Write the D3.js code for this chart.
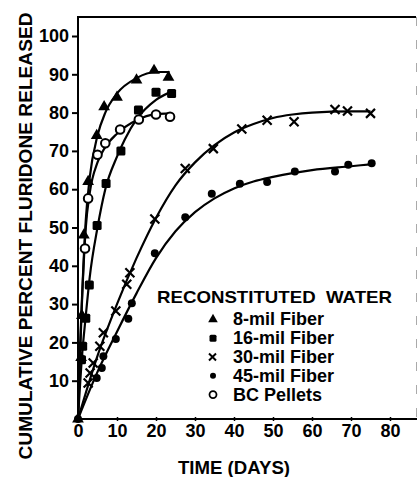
<!DOCTYPE html>
<html><head><meta charset="utf-8">
<script src="https://cdn.jsdelivr.net/npm/d3@7"></script>
<style>html,body{margin:0;padding:0;background:#fff;}svg{display:block;}</style>
</head><body>
<script>
// ---- data ----
const xTicks = [0,10,20,30,40,50,60,70,80];
const yTicks = [10,20,30,40,50,60,70,80,90,100];
const legendTitle = "RECONSTITUTED  WATER";
const seriesNames = ["8-mil Fiber","16-mil Fiber","30-mil Fiber","45-mil Fiber","BC Pellets"];
const seriesShapes = ["triangle","square","cross","dot","circle"];

const fiber8 = [[0,0],[0.8,16],[1,27],[1.5,48],[2.6,62],[4.8,74],[6.7,81.5],[10,84],[15,88.5],[19.5,91],[23.2,89.2]];
const fiber16 = [[0.9,15.5],[1.2,19],[2,26.3],[2.9,35],[4.9,50.5],[7.2,61.5],[11,70],[15.5,80.7],[20,85.3],[24,85]];
const fiber30 = [[2.6,9.4],[3.1,12],[3.9,14.6],[5.6,19],[6.5,22.5],[9.7,28.2],[12.5,35.2],[13.3,38.2],[19.7,52.2],[27.5,65.4],[34.7,70.6],[42,75.7],[48.5,78],[55.4,77.6],[65.9,80.8],[69.1,80.4],[75,79.8]];
const fiber45 = [[0,0],[4.8,10.7],[6.1,13.3],[6.5,16.4],[9.7,20.9],[12.9,26.2],[13.8,30.2],[19.7,43.3],[27.5,52.7],[34.3,58.8],[41.5,61.4],[48.5,61.9],[55.6,64.6],[65.9,64.6],[69.3,66.4],[75.3,66.8]];
const pellets = [[1.8,44.5],[2.6,57.6],[5,69],[7,72],[10.8,75.6],[15.6,78.2],[20,79.5],[23.6,78.9]];

// fitted curves as drawn in the picture
const fit8 = [[0,0],[0.5,18],[1,31],[2,52],[3,63],[5,74],[7,80],[10,85],[15,89],[20,90.6],[23.5,90.6]];
const fit16 = [[0,0],[1,16],[2,27],[3,37],[5,50],[7,60],[10,68.5],[12,73],[15,78.2],[20,83.3],[24.8,85.8]];
const fit30 = [[0,0],[5,16.5],[10,30],[15,42],[20,52.5],[25,61],[30,67],[35,71.5],[40,74.8],[45,77],[50,78.6],[55,79.5],[60,80],[70,80.3],[75,80.3]];
const fit45 = [[0,0],[5,12.3],[10,22.8],[15,32.8],[20,42],[25,49],[30,54],[35,57.6],[40,60.2],[45,62],[50,63.2],[55,64.2],[60,65],[70,66],[75,66.5]];
const fitPellets = [[0,0],[0.5,16],[1,30],[2,50],[3,59],[5,67],[7,71],[10,74.5],[15,78],[20,79.6],[23.5,79.8]];

const seriesData = [fiber8, fiber16, fiber30, fiber45, pellets];
const fitData = [fit8, fit16, fit30, fit45, fitPellets];

// ---- drawing ----
const W = 418, H = 477;
const svg = d3.select("body").append("svg").attr("width", W).attr("height", H);
const FONT = "'Liberation Sans', Arial, sans-serif";

const x = d3.scaleLinear().domain([0,80]).range([78,390]);
const y = d3.scaleLinear().domain([0,100]).range([419,36]);

// frame
svg.append("line").attr("x1",78).attr("x2",78).attr("y1",17).attr("y2",420).attr("stroke","#000").attr("stroke-width",2);
svg.append("line").attr("x1",77).attr("x2",416).attr("y1",17).attr("y2",17).attr("stroke","#000").attr("stroke-width",2);
svg.append("line").attr("x1",77).attr("x2",417).attr("y1",419).attr("y2",419).attr("stroke","#000").attr("stroke-width",2.2);
svg.append("line").attr("x1",416.5).attr("x2",416.5).attr("y1",17).attr("y2",419).attr("stroke","#aaa").attr("stroke-width",1).attr("stroke-dasharray","9,14");

// y axis
const yAxis = d3.axisLeft(y).tickValues(yTicks).tickSize(6).tickPadding(3).tickFormat(d3.format("d"));
const gy = svg.append("g").attr("transform","translate(78,0)").call(yAxis);
gy.select(".domain").remove();
gy.selectAll("line").attr("stroke","#000").attr("stroke-width",2);
gy.selectAll("text").attr("font-family",FONT).attr("font-weight","bold").attr("font-size",18).attr("fill","#000");

// x axis
const xAxis = d3.axisBottom(x).tickValues(xTicks).tickSize(4).tickPadding(3).tickFormat(d3.format("d"));
const gx = svg.append("g").attr("transform","translate(0,417)").call(xAxis);
gx.select(".domain").remove();
gx.selectAll("line").attr("stroke","#000").attr("stroke-width",1.5);
gx.selectAll("text").attr("font-family",FONT).attr("font-weight","bold").attr("font-size",18).attr("fill","#000");

// titles
svg.append("text").attr("transform","translate(32,236) rotate(-90)").attr("text-anchor","middle")
  .attr("font-family",FONT).attr("font-weight","bold").attr("font-size",18)
  .attr("textLength",447).attr("lengthAdjust","spacingAndGlyphs")
  .text("CUMULATIVE PERCENT FLURIDONE RELEASED");
svg.append("text").attr("x",234).attr("y",474).attr("text-anchor","middle")
  .attr("font-family",FONT).attr("font-weight","bold").attr("font-size",18)
  .attr("textLength",112).attr("lengthAdjust","spacingAndGlyphs")
  .text("TIME (DAYS)");

// curves
const line = d3.line().x(d=>x(d[0])).y(d=>y(d[1])).curve(d3.curveMonotoneX);
fitData.forEach(f => {
  svg.append("path").attr("d", line(f)).attr("fill","none").attr("stroke","#000").attr("stroke-width",2.2);
});

// markers
function drawMarker(g, shape, cx, cy) {
  if (shape === "triangle") {
    g.append("path").attr("d", d3.symbol(d3.symbolTriangle, 60)()).attr("transform",`translate(${cx},${cy})`).attr("fill","#000");
  } else if (shape === "square") {
    g.append("rect").attr("x",cx-4.5).attr("y",cy-4.5).attr("width",9).attr("height",9).attr("rx",1.5).attr("fill","#000");
  } else if (shape === "cross") {
    g.append("path").attr("d",`M${cx-4.5},${cy-4.5}L${cx+4.5},${cy+4.5}M${cx+4.5},${cy-4.5}L${cx-4.5},${cy+4.5}`)
      .attr("stroke","#000").attr("stroke-width",2.2).attr("fill","none");
  } else if (shape === "dot") {
    g.append("circle").attr("cx",cx).attr("cy",cy).attr("r",4).attr("fill","#000");
  } else if (shape === "circle") {
    g.append("circle").attr("cx",cx).attr("cy",cy).attr("r",4.3).attr("fill","#fff").attr("stroke","#000").attr("stroke-width",2);
  }
}
const gm = svg.append("g");
seriesData.forEach((s,i) => {
  s.forEach(d => drawMarker(gm, seriesShapes[i], x(d[0]), y(d[1])));
});

// legend
svg.append("text").attr("x",157).attr("y",303).attr("font-family",FONT).attr("font-weight","bold").attr("font-size",17)
  .attr("textLength",235).attr("lengthAdjust","spacingAndGlyphs").style("white-space","pre").text(legendTitle);
const legendY = d3.scaleBand().domain(seriesNames).range([310,404]);
seriesNames.forEach((n,i) => {
  const cy = legendY(n) + legendY.bandwidth()/2;
  const lg = svg.append("g");
  if (seriesShapes[i] === "cross") {
    lg.append("path").attr("d",`M209,${cy-3.5}L216,${cy+3.5}M216,${cy-3.5}L209,${cy+3.5}`).attr("stroke","#000").attr("stroke-width",2);
  } else if (seriesShapes[i] === "dot") {
    lg.append("circle").attr("cx",213).attr("cy",cy).attr("r",3).attr("fill","#000");
  } else if (seriesShapes[i] === "circle") {
    lg.append("circle").attr("cx",213).attr("cy",cy).attr("r",3.5).attr("fill","#fff").attr("stroke","#000").attr("stroke-width",1.8);
  } else if (seriesShapes[i] === "triangle") {
    lg.append("path").attr("d", d3.symbol(d3.symbolTriangle, 40)()).attr("transform",`translate(213,${cy})`).attr("fill","#000");
  } else {
    lg.append("rect").attr("x",209.5).attr("y",cy-3.5).attr("width",7).attr("height",7).attr("rx",1.5).attr("fill","#000");
  }
  lg.append("text").attr("x",233).attr("y",cy+6).attr("font-family",FONT).attr("font-weight","bold").attr("font-size",18).text(n);
});
</script>
</body></html>
